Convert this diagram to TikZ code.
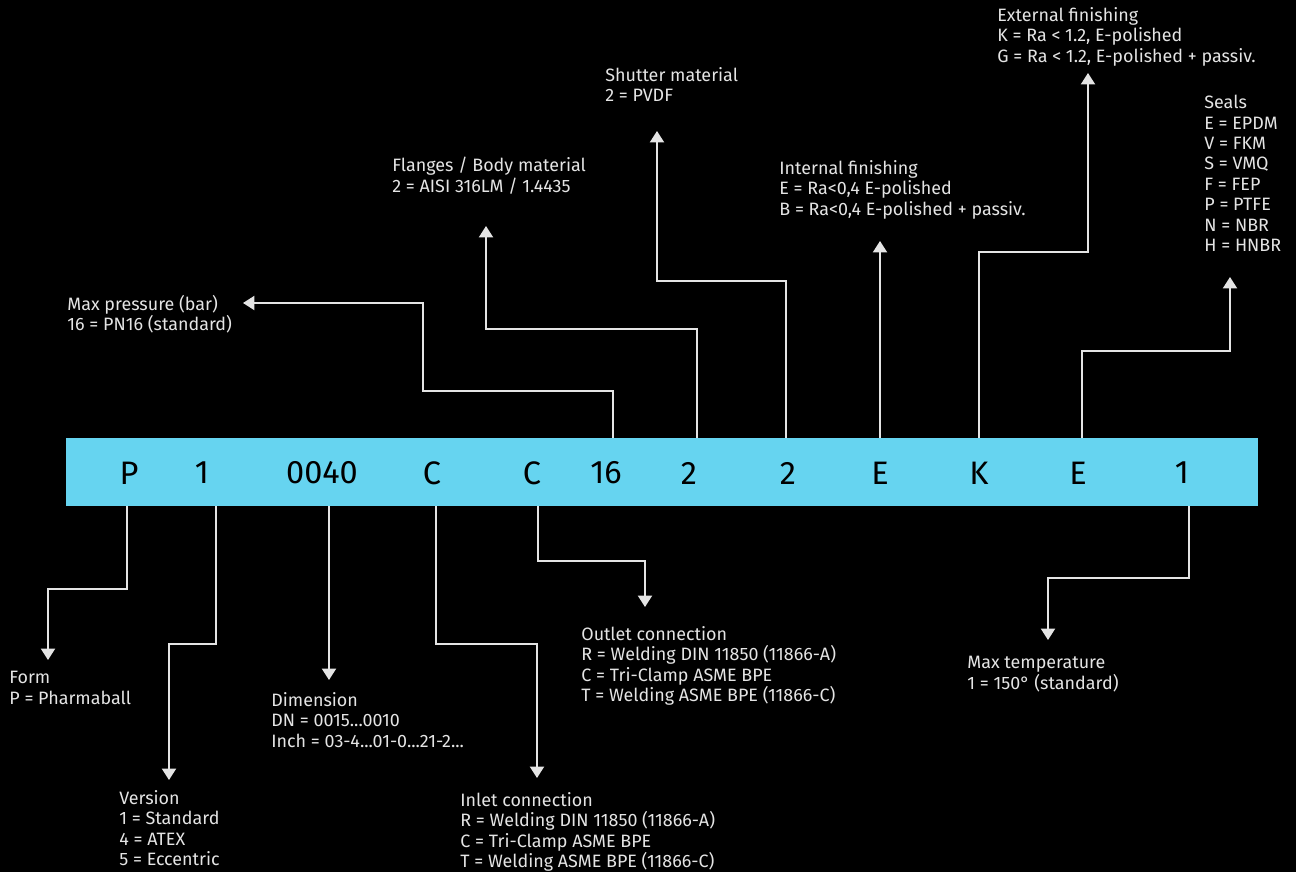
\documentclass[tikz,border=0pt]{standalone}
\usepackage{fontspec}
\setmainfont{Fira Sans}
\usetikzlibrary{arrows.meta,positioning,backgrounds}

\definecolor{barblue}{RGB}{102,212,240}
\definecolor{txtgrey}{RGB}{228,228,228}

\begin{document}
\begin{tikzpicture}[
    x=0.02cm, y=-0.02cm,
    %framed,
    bar/.style={rectangle, fill=barblue, draw=none, minimum width=23.84cm, minimum height=1.36cm, inner sep=0},
    code/.style={inner sep=0, text=black, font=\fontsize{18.5}{20}\selectfont},
    lbl/.style={anchor=north west, inner sep=0, align=left, text=txtgrey, font=\fontsize{10.2}{11.6}\selectfont},
    conn/.style={draw=txtgrey, line width=1.1pt, -{Triangle[width=8pt,length=6.5pt]}}
    ]
    \useasboundingbox (0,0) rectangle (1296,872);
    \fill[black] (0,0) rectangle (1296,872);

% the code bar
\node[bar] (bar) at (662,472) {};
\node[code] (cP)    at (129,473) {P};
\node[code] (cVer)  at (202,473) {1};
\node[code] (cDim)  at (322,473) {0040};
\node[code] (cIn)   at (432,473) {C};
\node[code] (cOut)  at (532,473) {C};
\node[code] (cPN)   at (606,473) {16};
\node[code] (cBody) at (689,473) {2};
\node[code] (cShut) at (788,473) {2};
\node[code] (cInt)  at (880,473) {E};
\node[code] (cExt)  at (979,473) {K};
\node[code] (cSeal) at (1078,473) {E};
\node[code] (cTemp) at (1182,473) {1};

% feet of the connectors on the bar
\foreach \n/\x in {Form/127,Ver/216,Dim/329,In/436,Out/538,PN/613,Body/697,Shut/786,Int/880,Ext/979,Seal/1082,Temp/1189}
    \coordinate (f\n) at (\x,0);

% labels above
\node[lbl] (lPN)   at (67,295)   {Max pressure (bar)\\16 = PN16 (standard)};
\node[lbl] (lBody) at (392,157)  {Flanges / Body material\\2 = AISI 316LM / 1.4435};
\node[lbl] (lShut) at (605,67)   {Shutter material\\2 = PVDF};
\node[lbl] (lInt)  at (779,160)  {Internal finishing\\E = Ra<0,4 E-polished\\B = Ra<0,4 E-polished + passiv.};
\node[lbl] (lExt)  at (997,7)    {External finishing\\K = Ra < 1.2, E-polished\\G = Ra < 1.2, E-polished + passiv.};
\node[lbl] (lSeal) at (1204,95)  {Seals\\E = EPDM\\V = FKM\\S = VMQ\\F = FEP\\P = PTFE\\N = NBR\\H = HNBR};

% labels below
\node[lbl] (lForm) at (9,671)    {Form\\P = Pharmaball};
\node[lbl] (lVer)  at (119,790)  {Version\\1 = Standard\\4 = ATEX\\5 = Eccentric};
\node[lbl] (lDim)  at (271,692)  {Dimension\\DN = 0015...0010\\Inch = 03-4...01-0...21-2...};
\node[lbl] (lIn)   at (460,792)  {Inlet connection\\R = Welding DIN 11850 (11866-A)\\C = Tri-Clamp ASME BPE\\T = Welding ASME BPE (11866-C)};
\node[lbl] (lOut)  at (581,626)  {Outlet connection\\R = Welding DIN 11850 (11866-A)\\C = Tri-Clamp ASME BPE\\T = Welding ASME BPE (11866-C)};
\node[lbl] (lTemp) at (967,656)  {Max temperature\\1 = 150° (standard)};

% arrow tips
\coordinate (tPN)   at (243,303);
\coordinate (tBody) at (486,226);
\coordinate (tShut) at (657,131);
\coordinate (tInt)  at (880,241);
\coordinate (tExt)  at (1088,73);
\coordinate (tSeal) at (1230,277);
\coordinate (tForm) at (48,660);
\coordinate (tVer)  at (169,780);
\coordinate (tDim)  at (329,680);
\coordinate (tIn)   at (537,778);
\coordinate (tOut)  at (645,607);
\coordinate (tTemp) at (1048,640);

% connectors, upwards
\draw[conn] (bar.north -| fPN) |- ++(-190,-47) |- (tPN);
\draw[conn] (bar.north -| fBody) |- ++(-211,-109) -- (tBody);
\draw[conn] (bar.north -| fShut) |- ++(-129,-157) -- (tShut);
\draw[conn] (bar.north -| fInt) -- (tInt);
\draw[conn] (bar.north -| fExt) |- ++(109,-186) -- (tExt);
\draw[conn] (bar.north -| fSeal) |- ++(148,-87) -- (tSeal);

% connectors, downwards
\draw[conn] (bar.south -| fForm) |- ++(-79,83) -- (tForm);
\draw[conn] (bar.south -| fVer) |- ++(-47,138) -- (tVer);
\draw[conn] (bar.south -| fDim) -- (tDim);
\draw[conn] (bar.south -| fIn) |- ++(101,138) -- (tIn);
\draw[conn] (bar.south -| fOut) |- ++(107,55) -- (tOut);
\draw[conn] (bar.south -| fTemp) |- ++(-141,72) -- (tTemp);
\end{tikzpicture}
\end{document}
